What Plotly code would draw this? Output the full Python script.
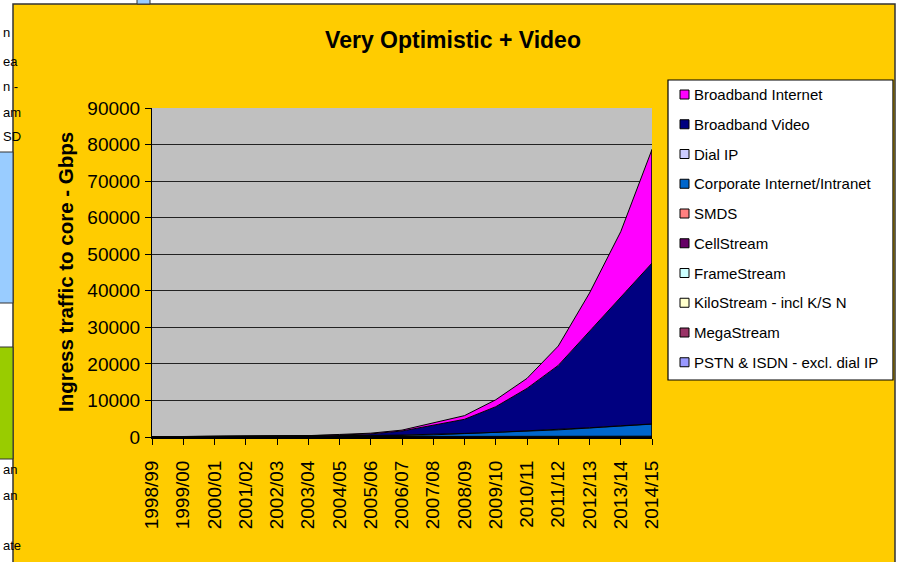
import plotly.graph_objects as go

# Financial years on the category axis
years = ["1998/99", "1999/00", "2000/01", "2001/02", "2002/03", "2003/04",
         "2004/05", "2005/06", "2006/07", "2007/08", "2008/09", "2009/10",
         "2010/11", "2011/12", "2012/13", "2013/14", "2014/15"]

# Ingress traffic to core (Gbps), stacked from the bottom up
pstn_isdn = [20, 25, 30, 35, 40, 45, 50, 50, 50, 50, 50, 50, 50, 50, 50, 50, 50]
megastream = [15, 18, 20, 25, 30, 35, 40, 45, 50, 55, 60, 65, 70, 75, 80, 85, 90]
kilostream = [10, 10, 10, 10, 10, 10, 10, 10, 10, 10, 10, 10, 10, 10, 10, 10, 10]
framestream = [10, 12, 14, 16, 18, 20, 22, 24, 26, 28, 30, 30, 30, 30, 30, 30, 30]
cellstream = [5, 8, 10, 12, 15, 18, 20, 22, 24, 26, 28, 30, 32, 34, 36, 38, 40]
smds = [5, 5, 5, 5, 5, 5, 5, 5, 5, 5, 5, 5, 5, 5, 5, 5, 5]
corporate = [10, 15, 20, 30, 45, 70, 110, 170, 260, 420, 700, 1000, 1350, 1750, 2250, 2800, 3300]
dial_ip = [5, 10, 20, 35, 50, 70, 90, 100, 110, 110, 100, 95, 90, 80, 70, 60, 50]
bb_video = [0, 0, 0, 0, 0, 80, 200, 420, 1100, 2580, 3860, 7000, 11650, 17550, 26450, 35100, 44000]
bb_internet = [0, 0, 0, 0, 0, 20, 150, 200, 250, 500, 1000, 1900, 2750, 5300, 10400, 18000, 31100]

series = [
    ("PSTN & ISDN - excl. dial IP", pstn_isdn, "#9999FF"),
    ("MegaStream", megastream, "#993366"),
    ("KiloStream - incl K/S N", kilostream, "#FFFFCC"),
    ("FrameStream", framestream, "#CCFFFF"),
    ("CellStream", cellstream, "#660066"),
    ("SMDS", smds, "#FF8080"),
    ("Corporate Internet/Intranet", corporate, "#0066CC"),
    ("Dial IP", dial_ip, "#CCCCFF"),
    ("Broadband Video", bb_video, "#000080"),
    ("Broadband Internet", bb_internet, "#FF00FF"),
]

W, H = 900, 562
FONT = "Liberation Sans, Arial, sans-serif"
PLOT_X = (152, 652)
PLOT_Y = (108, 437)


def px(x):
    return x / W


def py(y):
    return 1 - y / H


xs = list(range(len(years)))
fig = go.Figure()
for name, vals, color in series:
    fig.add_trace(go.Scatter(
        x=xs, y=vals, name=name, mode="lines", stackgroup="traffic",
        line=dict(color="black", width=1), fillcolor=color,
        showlegend=False, hoverinfo="x+y+name",
    ))

totals = [sum(v[i] for _, v, _ in series) for i in xs]

shapes = []
annotations = []

# Chart area background and border
shapes.append(dict(type="rect", xref="paper", yref="paper", layer="below",
                   x0=px(13), x1=px(895), y0=py(4), y1=py(570),
                   fillcolor="#FFCC00", line=dict(color="#333333", width=1.5)))
# Grey plot area on top of the chart area
shapes.append(dict(type="rect", xref="paper", yref="paper", layer="below",
                   x0=px(PLOT_X[0]), x1=px(PLOT_X[1]), y0=py(PLOT_Y[1]), y1=py(PLOT_Y[0]),
                   fillcolor="#C0C0C0", line=dict(width=0)))
# Neighbouring worksheet cells on the left edge
shapes.append(dict(type="rect", xref="paper", yref="paper", layer="below",
                   x0=px(-2), x1=px(13), y0=py(303), y1=py(152),
                   fillcolor="#99CCFF", line=dict(color="#333333", width=1)))
shapes.append(dict(type="rect", xref="paper", yref="paper", layer="below",
                   x0=px(-2), x1=px(13), y0=py(459), y1=py(347),
                   fillcolor="#99CC00", line=dict(color="#333333", width=1)))
shapes.append(dict(type="rect", xref="paper", yref="paper", layer="below",
                   x0=px(137), x1=px(150), y0=py(4), y1=py(-2),
                   fillcolor="#99CCFF", line=dict(color="#333333", width=1)))
for txt, yy in [("n", 33), ("ea", 61), ("n -", 86), ("am", 112), ("SD", 137),
                ("an", 469), ("an", 495), ("ate", 545)]:
    annotations.append(dict(text=txt, xref="paper", yref="paper", x=px(0.5), y=py(yy),
                            xanchor="left", yanchor="middle", showarrow=False,
                            font=dict(family=FONT, size=13, color="black")))

# Closing edge of the stacked areas at the last year
shapes.append(dict(type="line", xref="x", yref="y", layer="above",
                   x0=xs[-1], x1=xs[-1], y0=0, y1=totals[-1],
                   line=dict(color="black", width=1.5)))

# Legend box
shapes.append(dict(type="rect", xref="paper", yref="paper", layer="above",
                   x0=px(668), x1=px(893), y0=py(380), y1=py(80),
                   fillcolor="white", line=dict(color="black", width=1.2)))
leg_top, leg_step = 94.5, 29.75
for i, (name, vals, color) in enumerate(reversed(series)):
    yc = leg_top + i * leg_step
    shapes.append(dict(type="rect", xref="paper", yref="paper", layer="above",
                       x0=px(680), x1=px(689), y0=py(yc + 4.5), y1=py(yc - 4.5),
                       fillcolor=color, line=dict(color="black", width=1)))
    annotations.append(dict(text=name, xref="paper", yref="paper",
                            x=px(692), y=py(yc), xanchor="left", yanchor="middle",
                            showarrow=False,
                            font=dict(family=FONT, size=15, color="black")))

# Value axis title
annotations.append(dict(text="<b>Ingress traffic to core - Gbps</b>", xref="paper", yref="paper",
                        x=px(65), y=py(272), xanchor="center", yanchor="middle",
                        textangle=-90, showarrow=False,
                        font=dict(family=FONT, size=20.5, color="black")))

fig.update_layout(
    width=W, height=H,
    margin=dict(l=0, r=0, t=0, b=0, autoexpand=False),
    paper_bgcolor="white",
    plot_bgcolor="rgba(0,0,0,0)",
    font=dict(family=FONT, color="black"),
    title=dict(text="<b>Very Optimistic + Video</b>", x=px(453), y=py(40),
               xref="paper", yref="paper", xanchor="center", yanchor="middle",
               font=dict(family=FONT, size=23, color="black")),
    xaxis=dict(domain=[px(PLOT_X[0]), px(PLOT_X[1])], range=[0, len(years) - 1],
               tickvals=xs, ticktext=years, tickangle=-90,
               ticks="outside", ticklen=6, tickwidth=1, tickcolor="black",
               ticklabelstandoff=8,
               showline=True, linecolor="black", linewidth=2,
               showgrid=False, zeroline=False, automargin=False,
               tickfont=dict(family=FONT, size=19, color="black")),
    yaxis=dict(domain=[py(PLOT_Y[1]), py(PLOT_Y[0])], range=[0, 90000], dtick=10000,
               tickformat="d", ticks="outside", ticklen=6, tickwidth=1,
               tickcolor="black", showline=True, linecolor="black", linewidth=1,
               showgrid=True, gridcolor="#222222", gridwidth=1, zeroline=False,
               automargin=False, ticklabelstandoff=1,
               tickfont=dict(family=FONT, size=19, color="black")),
    shapes=shapes,
    annotations=annotations,
    showlegend=False,
)

fig.write_html("out.html")
